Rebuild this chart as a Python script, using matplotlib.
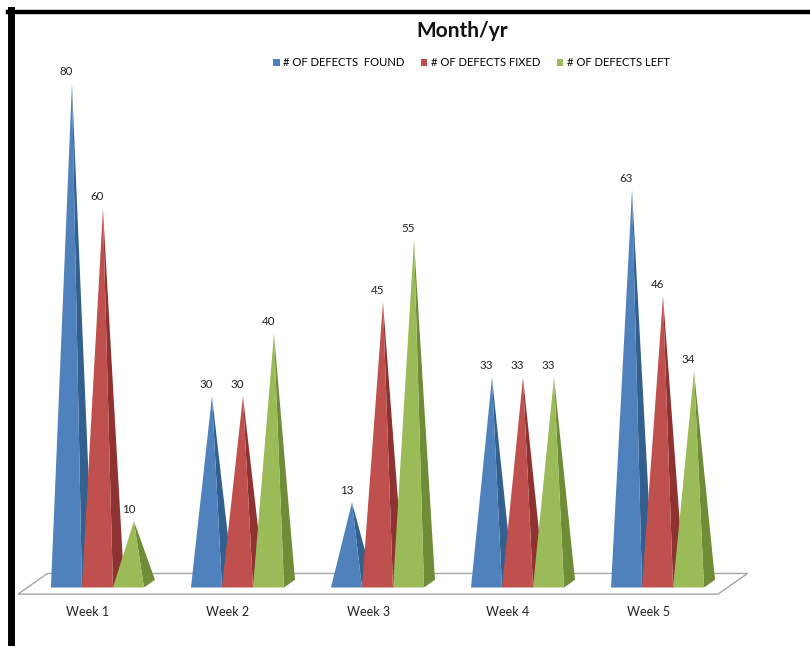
import matplotlib
matplotlib.use("Agg")
import matplotlib.pyplot as plt
from matplotlib.patches import Polygon, Patch
from matplotlib.lines import Line2D

weeks = ["Week 1", "Week 2", "Week 3", "Week 4", "Week 5"]
series = ["# OF DEFECTS  FOUND", "# OF DEFECTS FIXED", "# OF DEFECTS LEFT"]
found = [80, 30, 13, 33, 63]
fixed = [60, 30, 45, 33, 46]
left = [10, 40, 55, 33, 34]

front_colors = ["#4F81BD", "#C0504D", "#9BBB59"]
side_colors = ["#34608F", "#8E3331", "#6F8C36"]

plt.rcParams["font.family"] = ["Lato", "DejaVu Sans"]

fig = plt.figure(figsize=(8.1, 6.46), dpi=100)
ax = fig.add_axes([0, 0, 1, 1])
ax.set_xlim(-0.696, 5.089)
ax.set_ylim(-9.36, 94.0)
ax.axis("off")

# oblique 3D projection: depth shifts right and up
DX, DY = 0.21, 3.3
w = 31 / 140          # pyramid width in category units
dp = 0.374            # pyramid depth (fraction of floor depth)
z_front = -0.32       # floor front relative to pyramid front plane
z_back = 0.68

n = len(weeks)
floor = Polygon([(-0.5 + z_front * DX, z_front * DY),
                 (n - 0.5 + z_front * DX, z_front * DY),
                 (n - 0.5 + z_back * DX, z_back * DY),
                 (-0.5 + z_back * DX, z_back * DY)],
                closed=True, facecolor="white", edgecolor="#A6A6A6", lw=1.0, zorder=1)
ax.add_patch(floor)

data = [found, fixed, left]
for i in range(n):
    for j, vals in enumerate(data):
        v = vals[i]
        xl = i + (j - 1.5) * w
        xr = xl + w
        xc = (xl + xr) / 2
        apex = (xc + dp / 2 * DX, dp / 2 * DY + v)
        side = Polygon([(xr, 0), (xr + dp * DX, dp * DY), apex], closed=True,
                       facecolor=side_colors[j], edgecolor="none", zorder=2)
        front = Polygon([(xl, 0), (xr, 0), apex], closed=True,
                        facecolor=front_colors[j], edgecolor="none", zorder=2)
        ax.add_patch(side)
        ax.add_patch(front)
        ax.text(xc, apex[1] + 1.9, str(v), ha="center", va="center",
                fontsize=8.3, color="#222222", zorder=3)

for i, wk in enumerate(weeks):
    ax.text(i + z_front * DX, -3.92, wk, ha="center", va="center",
            fontsize=9, color="#222222")

fig.text(0.570, 0.952, "Month/yr", ha="center", va="center",
         fontsize=15, fontweight="bold", color="#111111")

handles = [Patch(facecolor=c, edgecolor="none") for c in front_colors]
fig.legend(handles, series, loc="center", bbox_to_anchor=(0.582, 0.9025),
           ncol=3, frameon=False, fontsize=8.1, handlelength=0.55,
           handleheight=0.55, handletextpad=0.3, columnspacing=1.5)

# black frame on top and left edges
fig.add_artist(Line2D([8 / 810, 1], [1 - 12 / 646, 1 - 12 / 646],
                      transform=fig.transFigure, color="black", lw=3.2))
fig.add_artist(Line2D([11 / 810, 11 / 810], [0, 1 - 10 / 646],
                      transform=fig.transFigure, color="black", lw=5.0))

fig.savefig("out.png", dpi=100)
